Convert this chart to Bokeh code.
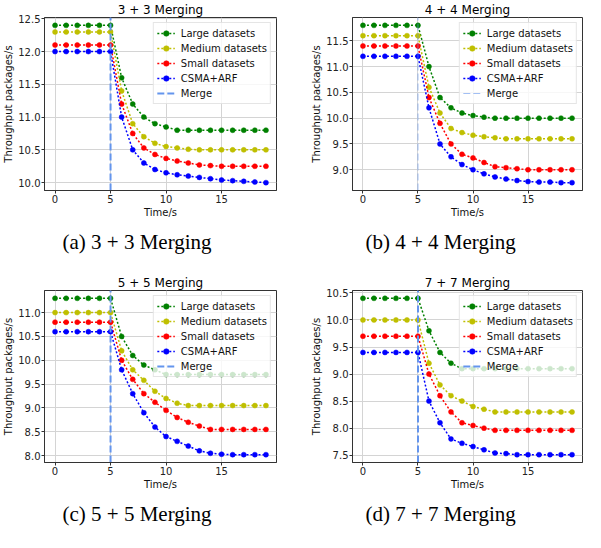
from bokeh.plotting import figure
from bokeh.layouts import column, row
from bokeh.models import (Title, Legend, LegendItem, FixedTicker,
                          PrintfTickFormatter, Range1d, ColumnDataSource)
from bokeh.embed import file_html
from bokeh.resources import INLINE

# ---------------- data ----------------
time_s = [0, 1, 2, 3, 4, 5, 6, 7, 8, 9, 10, 11, 12, 13, 14, 15, 16, 17, 18, 19]
merge_time = 5
series_labels = ["Large datasets", "Medium datasets", "Small datasets", "CSMA+ARF"]
x_ticks = [0, 5, 10, 15]

a_large = [12.4, 12.4, 12.4, 12.4, 12.4, 12.4, 11.6, 11.2, 11.0, 10.9, 10.85, 10.8, 10.8, 10.8, 10.8, 10.8, 10.8, 10.8, 10.8, 10.8]
a_medium = [12.3, 12.3, 12.3, 12.3, 12.3, 12.3, 11.4, 10.9, 10.7, 10.6, 10.55, 10.53, 10.51, 10.5, 10.5, 10.5, 10.5, 10.5, 10.5, 10.5]
a_small = [12.1, 12.1, 12.1, 12.1, 12.1, 12.1, 11.2, 10.75, 10.53, 10.43, 10.37, 10.33, 10.3, 10.27, 10.26, 10.25, 10.25, 10.25, 10.25, 10.25]
a_csma = [12.0, 12.0, 12.0, 12.0, 12.0, 12.0, 11.0, 10.5, 10.3, 10.2, 10.15, 10.12, 10.1, 10.08, 10.06, 10.04, 10.03, 10.02, 10.01, 10.0]
a_yticks = [10.0, 10.5, 11.0, 11.5, 12.0, 12.5]

b_large = [11.8, 11.8, 11.8, 11.8, 11.8, 11.8, 11.0, 10.4, 10.2, 10.1, 10.05, 10.02, 10.0, 10.0, 10.0, 10.0, 10.0, 10.0, 10.0, 10.0]
b_medium = [11.6, 11.6, 11.6, 11.6, 11.6, 11.6, 10.6, 10.1, 9.8, 9.72, 9.67, 9.64, 9.62, 9.6, 9.6, 9.6, 9.6, 9.6, 9.6, 9.6]
b_small = [11.4, 11.4, 11.4, 11.4, 11.4, 11.4, 10.4, 9.9, 9.5, 9.3, 9.23, 9.14, 9.06, 9.04, 9.02, 9.0, 9.0, 9.0, 9.0, 9.0]
b_csma = [11.2, 11.2, 11.2, 11.2, 11.2, 11.2, 10.2, 9.5, 9.25, 9.1, 9.0, 8.92, 8.86, 8.82, 8.79, 8.77, 8.76, 8.76, 8.75, 8.75]
b_yticks = [9.0, 9.5, 10.0, 10.5, 11.0, 11.5]

c_large = [11.3, 11.3, 11.3, 11.3, 11.3, 11.3, 10.5, 10.1, 9.9, 9.8, 9.7, 9.7, 9.7, 9.7, 9.7, 9.7, 9.7, 9.7, 9.7, 9.7]
c_medium = [11.0, 11.0, 11.0, 11.0, 11.0, 11.0, 10.2, 9.8, 9.58, 9.35, 9.2, 9.1, 9.05, 9.05, 9.05, 9.05, 9.05, 9.05, 9.05, 9.05]
c_small = [10.8, 10.8, 10.8, 10.8, 10.8, 10.8, 10.0, 9.6, 9.3, 9.12, 8.95, 8.8, 8.7, 8.62, 8.55, 8.55, 8.55, 8.55, 8.55, 8.55]
c_csma = [10.6, 10.6, 10.6, 10.6, 10.6, 10.6, 9.8, 9.3, 8.9, 8.6, 8.4, 8.3, 8.2, 8.1, 8.05, 8.03, 8.02, 8.02, 8.02, 8.02]
c_yticks = [8.0, 8.5, 9.0, 9.5, 10.0, 10.5, 11.0]

d_large = [10.4, 10.4, 10.4, 10.4, 10.4, 10.4, 9.8, 9.4, 9.2, 9.1, 9.1, 9.1, 9.1, 9.1, 9.1, 9.1, 9.1, 9.1, 9.1, 9.1]
d_medium = [10.0, 10.0, 10.0, 10.0, 10.0, 10.0, 9.2, 8.8, 8.6, 8.5, 8.4, 8.35, 8.3, 8.3, 8.3, 8.3, 8.3, 8.3, 8.3, 8.3]
d_small = [9.7, 9.7, 9.7, 9.7, 9.7, 9.7, 9.0, 8.6, 8.3, 8.1, 8.05, 8.0, 7.96, 7.96, 7.96, 7.96, 7.96, 7.96, 7.96, 7.96]
d_csma = [9.4, 9.4, 9.4, 9.4, 9.4, 9.4, 8.5, 8.1, 7.8, 7.72, 7.66, 7.6, 7.54, 7.53, 7.51, 7.51, 7.51, 7.51, 7.51, 7.51]
d_yticks = [7.5, 8.0, 8.5, 9.0, 9.5, 10.0, 10.5]

titles = ["3 + 3 Merging", "4 + 4 Merging", "5 + 5 Merging", "7 + 7 Merging"]
captions = ["(a) 3 + 3 Merging", "(b) 4 + 4 Merging", "(c) 5 + 5 Merging", "(d) 7 + 7 Merging"]

# ---------------- styles ----------------
COLORS = ["#008000", "#bfbf00", "#ff0000", "#0000ff"]
MERGE_COLOR = "#6495ed"
FONT = "DejaVu Sans"
CAP_FONT = "Liberation Serif"


def make_panel(title, caption, series, yticks, w, h, bl, br, bt, bb,
               merge_w, merge_alpha, cap_offset, cap_standoff):
    lo = min(min(s) for s in series)
    hi = max(max(s) for s in series)
    pad = 0.05 * (hi - lo)
    ylo, yhi = lo - pad, hi + pad
    tpad = 0.05 * (max(time_s) - min(time_s))
    p = figure(width=w, height=h, sizing_mode="fixed",
               x_range=Range1d(min(time_s) - tpad, max(time_s) + tpad),
               y_range=Range1d(ylo, yhi),
               output_backend="svg", toolbar_location=None,
               min_border_left=bl, min_border_right=br,
               min_border_top=bt, min_border_bottom=bb,
               background_fill_color="white", border_fill_color="white")
    p.title.text = title
    p.title.align = "center"
    p.title.text_font = FONT
    p.title.text_font_size = "12px"
    p.title.text_font_style = "normal"
    p.title.text_color = "#000000"
    if "standoff" in p.title.properties():
        p.title.standoff = 1

    p.outline_line_color = "#333333"
    p.outline_line_width = 1
    for ax in (p.xaxis[0], p.yaxis[0]):
        ax.axis_line_color = "#333333"
        ax.major_tick_line_color = "#333333"
        ax.major_tick_in = 0
        ax.major_tick_out = 3
        ax.minor_tick_line_color = None
        ax.major_label_standoff = 1
        ax.major_label_text_font = FONT
        ax.major_label_text_font_size = "10px"
        ax.major_label_text_color = "#222222"
        ax.axis_label_text_font = FONT
        ax.axis_label_text_font_size = "10px"
        ax.axis_label_text_font_style = "normal"
        ax.axis_label_text_color = "#111111"
        ax.axis_label_standoff = 1
    p.xaxis[0].ticker = FixedTicker(ticks=x_ticks)
    p.yaxis[0].ticker = FixedTicker(ticks=yticks)
    p.yaxis[0].formatter = PrintfTickFormatter(format="%.1f")
    p.xaxis[0].axis_label = "Time/s"
    p.yaxis[0].axis_label = "Throughput packages/s"
    p.xgrid.grid_line_color = "#d4d4d4"
    p.ygrid.grid_line_color = "#d4d4d4"
    p.xgrid.grid_line_width = 1
    p.ygrid.grid_line_width = 1

    items = []
    for label, ys, color in zip(series_labels, series, COLORS):
        src = ColumnDataSource(dict(t=time_s, v=ys))
        lr = p.line("t", "v", source=src, line_color=color, line_width=1.5,
                    line_dash="2 2")
        sr = p.scatter("t", "v", source=src, size=5, fill_color=color,
                       line_color=color, line_width=0.5)
        items.append(LegendItem(label=label, renderers=[lr, sr]))
    mr = p.line(x=[merge_time, merge_time], y=[ylo, yhi], line_color=MERGE_COLOR,
                line_width=merge_w, line_alpha=merge_alpha, line_dash="7 3")
    items.append(LegendItem(label="Merge", renderers=[mr]))

    legend = Legend(items=items, location="top_right")
    legend.label_text_font = FONT
    legend.label_text_font_size = "10px"
    legend.label_text_color = "#111111"
    legend.glyph_width = 18
    legend.glyph_height = 14
    legend.label_height = 14
    legend.label_standoff = 6
    legend.spacing = 1
    legend.padding = 3
    legend.margin = 5
    legend.border_line_color = "#cccccc"
    legend.border_line_width = 1
    legend.background_fill_color = "white"
    legend.background_fill_alpha = 0.8
    p.add_layout(legend)

    cap = Title(text=caption, align="left", offset=cap_offset,
                text_font=CAP_FONT, text_font_size="21px",
                text_font_style="normal", text_color="#000000")
    if "standoff" in cap.properties():
        cap.standoff = cap_standoff
    p.add_layout(cap, "below")
    return p


pa = make_panel(titles[0], captions[0], [a_large, a_medium, a_small, a_csma], a_yticks,
                292, 273, 40, 16, 15, 83, 2, 1.0, 18, 15)
pb = make_panel(titles[1], captions[1], [b_large, b_medium, b_small, b_csma], b_yticks,
                293, 273, 60, 3, 15, 83, 1, 0.6, 13, 15)
pc = make_panel(titles[2], captions[2], [c_large, c_medium, c_small, c_csma], c_yticks,
                292, 259, 40, 16, 15, 70, 2, 1.0, 18, 14)
pd = make_panel(titles[3], captions[3], [d_large, d_medium, d_small, d_csma], d_yticks,
                293, 259, 60, 3, 15, 70, 2, 1.0, 13, 14)

layout = column(row(pa, pb), row(pc, pd))
open("out.html", "w").write(file_html(layout, INLINE))
